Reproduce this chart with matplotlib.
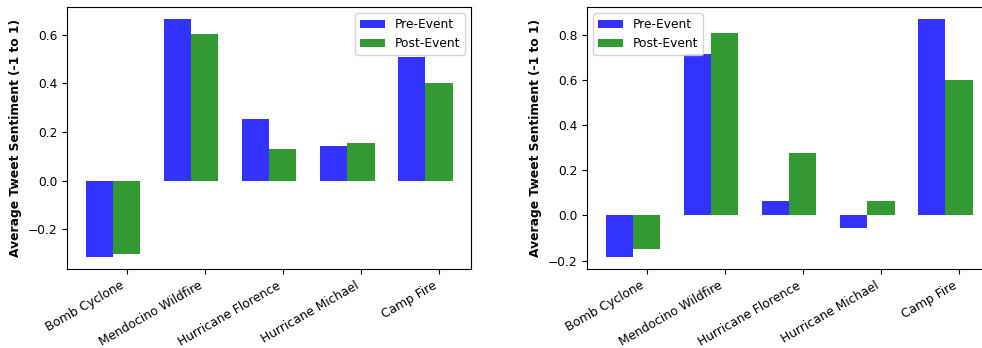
import numpy as np
import matplotlib
matplotlib.use('Agg')
import matplotlib.pyplot as plt

plt.rcParams['font.size'] = 8.8

# %% Data
events = ['Bomb Cyclone', 'Mendocino Wildfire', 'Hurricane Florence',
          'Hurricane Michael', 'Camp Fire']

pre_left = [-0.317, 0.665, 0.252, 0.143, 0.511]
post_left = [-0.303, 0.606, 0.129, 0.156, 0.402]

pre_right = [-0.186, 0.716, 0.063, -0.055, 0.868]
post_right = [-0.147, 0.806, 0.276, 0.062, 0.600]

bar_width = 0.35
index = np.arange(len(events))

# %% Plot
fig = plt.figure(figsize=(9.82, 3.48), dpi=100)
ax1 = fig.add_axes([67.3 / 982, 1 - 269.3 / 348, 403.7 / 982, 262 / 348])
ax2 = fig.add_axes([587.3 / 982, 1 - 269.3 / 348, 403.7 / 982, 262 / 348])

for ax, pre, post, loc in [(ax1, pre_left, post_left, 'upper right'),
                           (ax2, pre_right, post_right, 'upper left')]:
    ax.bar(index, pre, bar_width, alpha=0.8, color='b', label='Pre-Event')
    ax.bar(index + bar_width, post, bar_width, alpha=0.8, color='g',
           label='Post-Event')
    ax.set_ylabel('Average Tweet Sentiment (-1 to 1)', fontweight='bold')
    ax.set_xticks(index + bar_width)
    ax.set_xticklabels(events, rotation=30, ha='right')
    ax.legend(loc=loc)

fig.savefig('out.png', dpi=100)
